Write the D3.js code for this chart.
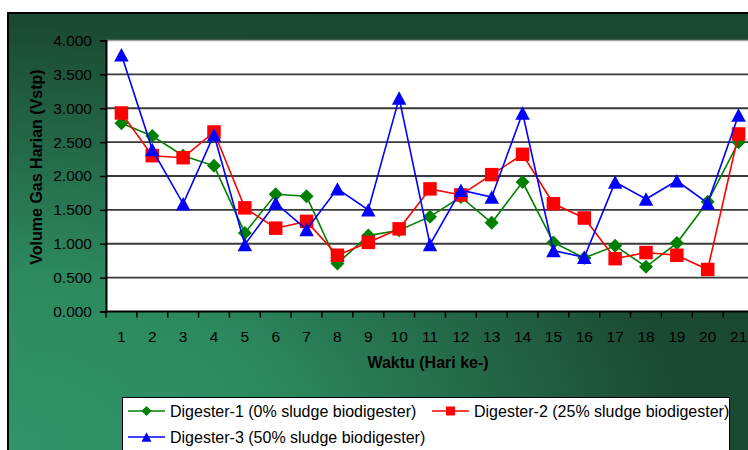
<!DOCTYPE html>
<html>
<head>
<meta charset="utf-8">
<script src="https://cdn.jsdelivr.net/npm/d3@7"></script>
<style>
  html, body { margin: 0; padding: 0; background: #ffffff; overflow: hidden; }
  svg { display: block; font-family: "Liberation Sans", Arial, sans-serif; }
</style>
</head>
<body>
<svg id="chart" width="748" height="450"></svg>
<script>
const categories = ["1","2","3","4","5","6","7","8","9","10","11","12","13","14","15","16","17","18","19","20","21"];
const digester1 = [2.78, 2.59, 2.30, 2.15, 1.16, 1.73, 1.70, 0.71, 1.12, 1.20, 1.40, 1.69, 1.31, 1.91, 1.02, 0.79, 0.97, 0.66, 1.01, 1.62, 2.50];
const digester2 = [2.93, 2.30, 2.27, 2.65, 1.53, 1.23, 1.33, 0.83, 1.02, 1.22, 1.81, 1.72, 2.02, 2.32, 1.59, 1.38, 0.78, 0.87, 0.83, 0.62, 2.62];
const digester3 = [3.79, 2.39, 1.59, 2.61, 0.99, 1.60, 1.21, 1.81, 1.50, 3.15, 0.99, 1.79, 1.69, 2.93, 0.90, 0.80, 1.91, 1.66, 1.93, 1.60, 2.90];
const yTickValues = [0, 0.5, 1, 1.5, 2, 2.5, 3, 3.5, 4];
const yTickLabels = ["0.000","0.500","1.000","1.500","2.000","2.500","3.000","3.500","4.000"];
const seriesNames = ["Digester-1 (0% sludge biodigester)", "Digester-2 (25% sludge biodigester)", "Digester-3 (50% sludge biodigester)"];
const seriesColors = ["#008000", "#ff0000", "#0000ff"];
const seriesShapes = ["diamond", "square", "triangle"];
const xTitle = "Waktu (Hari ke-)";
const yTitle = "Volume Gas Harian (Vstp)";

const svg = d3.select("#chart");
const W = 748, H = 450;
const plot = { left: 106, top: 40.5, right: 754, bottom: 311.5 };

// background gradient
const defs = svg.append("defs");
const grad = defs.append("radialGradient")
  .attr("id", "bg").attr("gradientUnits", "userSpaceOnUse")
  .attr("cx", 0).attr("cy", 450).attr("r", 500)
  .attr("gradientTransform", "translate(0,450) scale(1.6,1) translate(0,-450)");
grad.append("stop").attr("offset", 0).attr("stop-color", "#31946a");
grad.append("stop").attr("offset", 0.35).attr("stop-color", "#2d8a5f");
grad.append("stop").attr("offset", 0.85).attr("stop-color", "#1b4a33");
grad.append("stop").attr("offset", 1).attr("stop-color", "#1a4731");

svg.append("rect").attr("x", 8).attr("y", 13).attr("width", 800).attr("height", 500)
  .attr("fill", "url(#bg)").attr("stroke", "#000").attr("stroke-width", 2);

const x = d3.scaleBand().domain(categories).range([plot.left, plot.right]);
const y = d3.scaleLinear().domain([0, 4]).range([plot.bottom, plot.top]);
const cx = d => x(d) + x.bandwidth() / 2;

// plot area
svg.append("rect").attr("x", plot.left).attr("y", plot.top)
  .attr("width", plot.right - plot.left + 20).attr("height", plot.bottom - plot.top)
  .attr("fill", "#fff");
svg.append("line").attr("x1", plot.left).attr("x2", W).attr("y1", plot.top).attr("y2", plot.top)
  .attr("stroke", "#a0a0a0").attr("stroke-width", 1.5);

// gridlines
svg.append("g").selectAll("line").data(yTickValues.filter(v => v > 0 && v < 4)).join("line")
  .attr("x1", plot.left).attr("x2", W)
  .attr("y1", d => y(d)).attr("y2", d => y(d))
  .attr("stroke", "#3a3a3a").attr("stroke-width", 1.8);

// y axis
const yAxis = svg.append("g").attr("transform", `translate(${plot.left},0)`)
  .call(d3.axisLeft(y).tickValues(yTickValues).tickFormat((d, i) => yTickLabels[i]).tickSize(6).tickPadding(8));
yAxis.select(".domain").attr("stroke", "#000").attr("stroke-width", 2);
yAxis.selectAll(".tick line").attr("stroke", "#000").attr("stroke-width", 1.5);
yAxis.selectAll(".tick text").attr("fill", "#000").style("font-size", "15.5px")
  .style("font-family", "'Liberation Sans', Arial, sans-serif");

// x axis
const xAxis = svg.append("g").attr("transform", `translate(0,${plot.bottom})`)
  .call(d3.axisBottom(x).tickSize(0).tickPadding(19));
xAxis.select(".domain").remove();
xAxis.selectAll(".tick text").attr("fill", "#000").style("font-size", "15.5px")
  .style("font-family", "'Liberation Sans', Arial, sans-serif");
svg.append("line").attr("x1", plot.left).attr("x2", W).attr("y1", plot.bottom).attr("y2", plot.bottom)
  .attr("stroke", "#000").attr("stroke-width", 2);
const bounds = d3.range(categories.length + 1).map(i => plot.left + i * x.step());
svg.append("g").selectAll("line").data(bounds).join("line")
  .attr("x1", d => d).attr("x2", d => d).attr("y1", plot.bottom).attr("y2", plot.bottom + 6)
  .attr("stroke", "#000").attr("stroke-width", 1.5);

// titles
svg.append("text").attr("x", 428).attr("y", 368).attr("text-anchor", "middle")
  .style("font-size", "16px").style("font-weight", "bold").attr("fill", "#000").text(xTitle);
svg.append("text").attr("transform", "translate(36,167) rotate(-90)").attr("text-anchor", "middle")
  .attr("dy", "0.35em").style("font-size", "16px").style("font-weight", "bold").attr("fill", "#000").text(yTitle);

function shapePath(shape, s) {
  if (shape === "square") return `M${-s/2},${-s/2}h${s}v${s}h${-s}Z`;
  if (shape === "diamond") { const h = s / 2; return `M0,${-h}L${h},0L0,${h}L${-h},0Z`; }
  const w = s, hh = s * 0.93;
  return `M0,${-hh/2}L${w/2},${hh/2}L${-w/2},${hh/2}Z`;
}
const markerSizes = { square: 13.5, diamond: 14, triangle: 14.5 };

const allSeries = [digester1, digester2, digester3];
allSeries.forEach((vals, si) => {
  const data = vals.map((v, i) => ({ c: categories[i], v }));
  const line = d3.line().x(d => cx(d.c)).y(d => y(d.v));
  svg.append("path").datum(data).attr("d", line).attr("fill", "none")
    .attr("stroke", seriesColors[si]).attr("stroke-width", 1.6);
  svg.append("g").selectAll("path").data(data).join("path")
    .attr("transform", d => `translate(${cx(d.c)},${y(d.v)})`)
    .attr("d", shapePath(seriesShapes[si], markerSizes[seriesShapes[si]]))
    .attr("fill", seriesColors[si]);
});

// legend
const lg = svg.append("g");
lg.append("rect").attr("x", 122.5).attr("y", 397.5).attr("width", 607).attr("height", 80)
  .attr("fill", "#fff").attr("stroke", "#000").attr("stroke-width", 1);
const legendPos = [{ x: 128, y: 411 }, { x: 432, y: 411 }, { x: 128, y: 437 }];
seriesNames.forEach((name, i) => {
  const p = legendPos[i];
  lg.append("line").attr("x1", p.x).attr("x2", p.x + 37).attr("y1", p.y).attr("y2", p.y)
    .attr("stroke", seriesColors[i]).attr("stroke-width", 1.6);
  lg.append("path").attr("transform", `translate(${p.x + 18.5},${p.y})`)
    .attr("d", shapePath(seriesShapes[i], seriesShapes[i] === "square" ? 9 : 10)).attr("fill", seriesColors[i]);
  lg.append("text").attr("x", p.x + 42).attr("y", p.y).attr("dy", "0.35em")
    .style("font-size", "16px").attr("fill", "#000").text(name);
});
</script>
</body>
</html>
